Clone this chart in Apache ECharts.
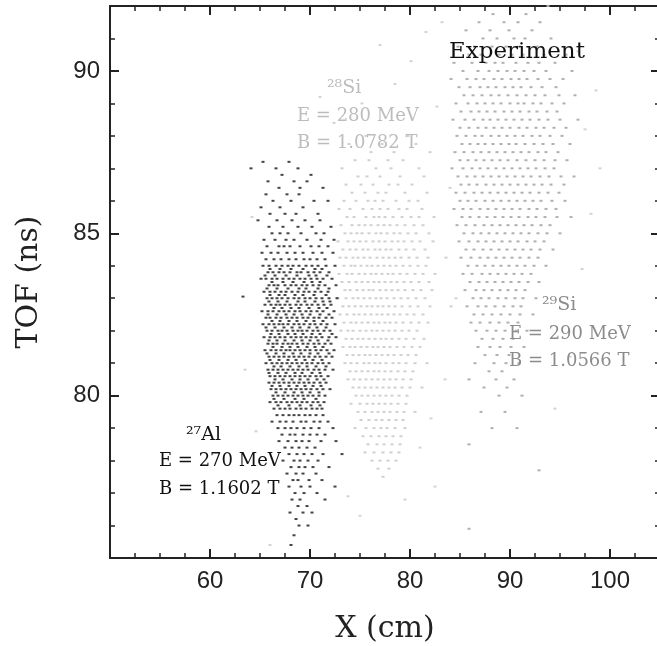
<!DOCTYPE html>
<html>
<head>
<meta charset="utf-8">
<script src="https://cdn.jsdelivr.net/npm/echarts@6/dist/echarts.min.js"></script>
<style>html,body{margin:0;padding:0;background:#fff}#c{width:657px;height:646px}</style>
</head>
<body>
<div id="c"></div>
<script>
// Axis ticks
const xTicks = [60, 70, 80, 90, 100];
const yTicks = [80, 85, 90];

// 27Al cluster rows: [TOF, [X values]]
const alRows = [
  [87.2, [65.3, 67.9]],
  [87.0, [64.1, 66.6, 68.8]],
  [86.8, [67.2, 70.1]],
  [86.6, [65.8, 68.4, 69.7]],
  [86.4, [66.9, 69.0, 71.3]],
  [86.2, [65.6, 67.7, 68.9]],
  [86.0, [66.3, 68.1, 70.4, 71.8]],
  [85.8, [65.1, 67.0, 69.3]],
  [85.6, [66.0, 67.5, 68.6, 70.8]],
  [85.4, [64.8, 66.7, 68.2, 69.5, 71.0]],
  [85.2, [65.9, 67.3, 68.8, 70.2, 72.1]],
  [85.0, [66.2, 67.0, 67.8, 69.1, 70.6, 71.4]],
  [84.8, [65.4, 66.5, 67.6, 68.4, 69.7, 71.1, 72.4]],
  [84.6, [65.7, 66.9, 67.4, 68.0, 69.0, 70.1, 70.9, 71.8]],
  [84.4, [65.2, 66.1, 66.8, 67.7, 68.5, 69.3, 70.3, 71.2, 72.3]],
  [84.2, [65.6, 66.4, 67.1, 67.9, 68.6, 69.4, 70.0, 70.7, 71.5]],
  [84.0, [65.3, 65.9, 66.6, 67.2, 67.8, 68.3, 68.9, 69.6, 70.2, 70.8, 71.6, 72.5]],
  [83.9, [66.0, 67.0, 68.1, 69.3, 70.5, 71.2]],
  [83.8, [65.8, 66.3, 66.9, 67.4, 68.0, 68.7, 69.1, 69.8, 70.4, 71.0, 71.9]],
  [83.7, [65.5, 66.5, 67.6, 68.7, 69.9, 70.6, 71.7]],
  [83.6, [65.1, 65.6, 66.2, 66.7, 67.3, 67.9, 68.4, 69.0, 69.5, 70.1, 70.7, 71.3, 72.2]],
  [83.5, [66.2, 67.3, 68.3, 69.4, 70.2, 71.0]],
  [83.4, [65.9, 66.4, 66.8, 67.5, 68.1, 68.6, 69.2, 69.7, 70.3, 70.9, 71.5, 72.6]],
  [83.3, [65.7, 66.7, 67.8, 68.9, 69.6, 70.8, 71.9]],
  [83.2, [65.4, 66.0, 66.5, 67.1, 67.6, 68.2, 68.8, 69.4, 69.9, 70.5, 71.1, 71.8]],
  [83.1, [66.0, 66.9, 67.5, 68.5, 69.3, 70.4, 71.6]],
  [83.0, [65.7, 66.2, 66.7, 67.2, 67.8, 68.4, 68.9, 69.5, 70.0, 70.6, 71.2, 71.9, 72.7]],
  [82.9, [65.9, 66.8, 67.7, 68.8, 69.5, 70.5, 71.3, 72.0]],
  [82.8, [65.5, 66.1, 66.6, 67.0, 67.5, 68.0, 68.6, 69.1, 69.7, 70.2, 70.8, 71.4, 72.1]],
  [82.7, [66.4, 67.2, 68.1, 68.9, 69.9, 70.9, 71.7]],
  [82.6, [65.2, 65.8, 66.3, 66.9, 67.4, 67.9, 68.5, 69.0, 69.6, 70.1, 70.7, 71.3, 72.4]],
  [82.5, [65.8, 66.7, 67.6, 68.4, 69.2, 70.0, 71.0, 71.9]],
  [82.4, [65.6, 66.0, 66.6, 67.1, 67.7, 68.2, 68.7, 69.3, 69.8, 70.4, 70.9, 71.6, 72.2]],
  [82.3, [66.2, 67.0, 67.9, 68.7, 69.6, 70.4, 71.3]],
  [82.2, [65.3, 65.9, 66.4, 66.9, 67.3, 67.8, 68.4, 68.9, 69.4, 70.0, 70.5, 71.1, 71.7, 72.5]],
  [82.1, [65.6, 66.5, 67.4, 68.2, 69.0, 69.9, 70.7, 71.6]],
  [82.0, [65.7, 66.2, 66.8, 67.2, 67.7, 68.3, 68.8, 69.2, 69.7, 70.3, 70.8, 71.4, 72.0]],
  [81.9, [66.1, 66.9, 67.8, 68.5, 69.3, 70.2, 71.0, 72.2]],
  [81.8, [65.4, 66.0, 66.5, 67.0, 67.5, 68.1, 68.6, 69.1, 69.6, 70.1, 70.6, 71.2, 71.9, 72.6]],
  [81.7, [65.9, 66.7, 67.5, 68.4, 69.2, 70.0, 70.8, 71.8]],
  [81.6, [65.8, 66.3, 66.7, 67.3, 67.8, 68.2, 68.7, 69.3, 69.8, 70.4, 70.9, 71.5, 72.1]],
  [81.5, [66.3, 67.2, 68.0, 68.8, 69.7, 70.5, 71.3]],
  [81.4, [65.5, 66.1, 66.6, 67.1, 67.6, 68.0, 68.5, 69.0, 69.5, 70.0, 70.6, 71.1, 71.7, 72.4]],
  [81.3, [65.7, 66.6, 67.4, 68.3, 69.1, 70.0, 70.8, 71.9]],
  [81.2, [65.9, 66.4, 66.9, 67.4, 67.9, 68.4, 68.9, 69.4, 69.9, 70.5, 71.0, 71.6, 72.2]],
  [81.1, [66.0, 66.9, 67.8, 68.6, 69.5, 70.3, 71.2]],
  [81.0, [65.6, 66.2, 66.7, 67.2, 67.7, 68.2, 68.7, 69.2, 69.7, 70.2, 70.8, 71.3, 71.9]],
  [80.9, [66.4, 67.1, 68.0, 68.9, 69.7, 70.6, 71.6]],
  [80.8, [65.8, 66.3, 66.8, 67.3, 67.8, 68.3, 68.8, 69.3, 69.8, 70.4, 70.9, 71.5, 72.3]],
  [80.7, [65.9, 66.8, 67.6, 68.5, 69.2, 70.2, 71.0]],
  [80.6, [66.0, 66.5, 67.0, 67.5, 68.0, 68.5, 69.0, 69.5, 70.0, 70.6, 71.1, 71.8]],
  [80.5, [66.5, 67.3, 68.2, 69.0, 69.8, 70.7, 71.4]],
  [80.4, [65.9, 66.4, 66.9, 67.4, 67.9, 68.4, 68.9, 69.4, 69.9, 70.4, 71.0, 71.6]],
  [80.3, [66.2, 67.0, 67.9, 68.7, 69.5, 70.3, 71.1]],
  [80.2, [66.1, 66.6, 67.1, 67.6, 68.1, 68.6, 69.1, 69.6, 70.1, 70.7, 71.3, 72.0]],
  [80.1, [66.6, 67.5, 68.4, 69.2, 70.0, 70.9]],
  [80.0, [66.3, 66.8, 67.3, 67.8, 68.3, 68.8, 69.3, 69.8, 70.3, 70.9, 71.5]],
  [79.9, [66.4, 67.4, 68.5, 69.4, 70.6]],
  [79.8, [66.0, 66.6, 67.1, 67.7, 68.2, 68.7, 69.2, 69.7, 70.3, 70.8, 71.4]],
  [79.7, [66.8, 67.9, 69.0, 70.1, 71.0]],
  [79.6, [66.4, 67.0, 67.5, 68.0, 68.6, 69.1, 69.6, 70.2, 70.7, 71.2]],
  [79.4, [66.7, 67.3, 67.9, 68.4, 68.9, 69.5, 70.0, 70.6, 71.3]],
  [79.2, [66.2, 67.0, 67.6, 68.3, 69.1, 69.6, 70.4, 71.0, 71.8]],
  [79.0, [66.8, 67.5, 68.1, 68.7, 69.4, 70.1, 70.9, 72.3]],
  [78.8, [67.2, 68.0, 68.5, 69.3, 70.0, 70.7, 71.5]],
  [78.6, [66.9, 67.8, 68.6, 69.2, 69.9, 71.1, 72.6]],
  [78.4, [67.5, 68.2, 68.9, 69.7, 70.5]],
  [78.2, [67.9, 68.7, 69.4, 70.2, 71.3, 73.2]],
  [78.0, [67.3, 68.4, 69.0, 69.8, 70.8]],
  [77.8, [68.1, 68.9, 69.5, 70.3, 71.9]],
  [77.6, [67.7, 68.6, 69.3, 70.6]],
  [77.4, [68.3, 68.8, 69.9, 71.2]],
  [77.2, [67.9, 69.1, 70.0, 72.5]],
  [77.0, [68.5, 69.4, 70.7]],
  [76.8, [68.2, 69.0, 71.5]],
  [76.6, [68.8, 69.7]],
  [76.4, [68.0, 69.3, 70.2]],
  [76.2, [68.6]],
  [76.0, [68.9, 69.8]],
  [75.7, [68.4]],
  [75.4, [68.1]],
  [83.05, [63.3]]
];

// 28Si cluster rows
const si28Rows = [
  [88.00, [75.6, 79.8]],
  [87.75, [73.9, 77.2, 80.6]],
  [87.50, [76.1, 78.4, 82.0]],
  [87.25, [74.5, 75.9, 77.8, 79.3]],
  [87.00, [73.2, 76.6, 78.1, 80.9]],
  [86.75, [74.8, 75.7, 77.0, 79.0, 81.4]],
  [86.50, [73.6, 75.1, 76.3, 77.9, 78.8, 80.2]],
  [86.25, [74.2, 75.5, 76.8, 77.6, 79.5, 81.7]],
  [86.00, [73.4, 74.6, 75.8, 76.5, 77.3, 78.6, 79.9, 80.8]],
  [85.75, [72.9, 74.0, 75.3, 76.2, 77.0, 77.8, 78.9, 79.7, 81.2]],
  [85.50, [73.7, 74.4, 75.6, 76.4, 76.9, 77.5, 78.3, 79.2, 80.1, 80.9, 82.4]],
  [85.25, [73.1, 74.2, 74.9, 75.5, 76.1, 76.8, 77.4, 78.0, 78.7, 79.5, 80.4, 81.3]],
  [85.00, [73.5, 74.1, 74.7, 75.2, 75.9, 76.6, 77.1, 77.7, 78.4, 79.0, 79.8, 80.6, 81.9]],
  [84.75, [72.8, 73.8, 74.4, 75.0, 75.6, 76.3, 76.9, 77.5, 78.2, 78.8, 79.4, 80.2, 81.0, 82.3]],
  [84.50, [73.3, 74.0, 74.6, 75.3, 75.8, 76.5, 77.0, 77.6, 78.1, 78.9, 79.6, 80.4, 81.5]],
  [84.25, [73.0, 73.6, 74.3, 74.8, 75.4, 76.0, 76.7, 77.3, 77.9, 78.5, 79.1, 79.9, 80.7, 81.8, 83.6]],
  [84.00, [73.4, 74.1, 74.5, 75.1, 75.7, 76.2, 76.8, 77.4, 78.0, 78.6, 79.3, 80.0, 80.8, 81.6]],
  [83.75, [72.9, 73.7, 74.2, 74.9, 75.5, 76.1, 76.6, 77.2, 77.8, 78.3, 79.0, 79.7, 80.5, 81.3, 82.5]],
  [83.50, [73.2, 73.9, 74.6, 75.2, 75.8, 76.4, 76.9, 77.5, 78.1, 78.7, 79.4, 80.1, 80.9, 81.9]],
  [83.25, [73.5, 74.0, 74.7, 75.3, 75.9, 76.3, 77.0, 77.6, 78.2, 78.8, 79.5, 80.3, 81.1, 82.2]],
  [83.00, [72.8, 73.6, 74.3, 74.8, 75.4, 76.0, 76.6, 77.1, 77.7, 78.4, 79.1, 79.8, 80.6, 81.5]],
  [82.75, [73.3, 73.9, 74.5, 75.1, 75.7, 76.2, 76.8, 77.3, 77.9, 78.5, 79.2, 80.0, 80.8, 82.0, 84.1]],
  [82.50, [73.0, 73.7, 74.4, 74.9, 75.5, 76.1, 76.7, 77.2, 77.8, 78.4, 79.0, 79.7, 80.4, 81.3]],
  [82.25, [73.4, 74.1, 74.6, 75.2, 75.8, 76.4, 76.9, 77.5, 78.0, 78.6, 79.3, 80.1, 80.9, 81.8]],
  [82.00, [73.1, 73.8, 74.3, 75.0, 75.6, 76.2, 76.7, 77.3, 77.9, 78.5, 79.2, 79.9, 80.7]],
  [81.75, [73.6, 74.2, 74.8, 75.3, 75.9, 76.5, 77.1, 77.6, 78.2, 78.9, 79.6, 80.4, 81.4]],
  [81.50, [73.3, 74.0, 74.5, 75.1, 75.7, 76.3, 76.8, 77.4, 78.0, 78.7, 79.4, 80.2, 81.0]],
  [81.25, [73.7, 74.3, 74.9, 75.5, 76.0, 76.6, 77.2, 77.8, 78.4, 79.1, 79.8, 80.6]],
  [81.00, [73.5, 74.1, 74.7, 75.4, 75.9, 76.5, 77.0, 77.6, 78.3, 78.9, 79.6, 80.5, 81.7]],
  [80.75, [74.0, 74.6, 75.2, 75.8, 76.4, 76.9, 77.5, 78.1, 78.8, 79.5, 80.3]],
  [80.50, [73.8, 74.4, 75.0, 75.6, 76.2, 76.8, 77.4, 78.0, 78.6, 79.3, 80.1]],
  [80.25, [74.3, 74.9, 75.5, 76.1, 76.7, 77.3, 77.9, 78.5, 79.2, 80.0, 81.2]],
  [80.00, [74.6, 75.2, 75.8, 76.4, 77.0, 77.6, 78.2, 78.9, 79.7]],
  [79.75, [74.1, 75.0, 75.7, 76.3, 76.9, 77.5, 78.1, 78.8, 79.6]],
  [79.50, [74.8, 75.5, 76.2, 76.8, 77.4, 78.0, 78.7, 79.4, 80.5]],
  [79.25, [75.1, 75.9, 76.6, 77.2, 77.9, 78.6, 79.3]],
  [79.00, [74.5, 75.6, 76.4, 77.1, 77.7, 78.5, 79.5]],
  [78.75, [75.3, 76.1, 76.9, 77.6, 78.3, 79.1]],
  [78.50, [75.8, 76.7, 77.4, 78.2, 79.0]],
  [78.25, [75.5, 76.4, 77.3, 78.1, 78.9]],
  [78.00, [76.2, 77.0, 77.8, 78.6]],
  [77.75, [76.8, 77.9]],
  [77.50, [77.3]]
];

// 29Si cluster rows
const si29Rows = [
  [91.75, [88.3, 91.6]],
  [91.50, [86.9, 89.4, 90.8, 93.0]],
  [91.25, [85.6, 88.0, 89.9, 92.2]],
  [91.00, [87.3, 88.7, 90.4, 91.5, 94.1]],
  [90.75, [84.8, 86.5, 88.2, 89.6, 90.9, 92.7]],
  [90.50, [85.9, 87.1, 88.9, 90.2, 91.3, 93.4, 95.6]],
  [90.25, [84.4, 86.2, 87.6, 88.5, 89.3, 90.6, 91.8, 92.9, 94.5]],
  [90.00, [85.3, 86.8, 87.9, 88.8, 89.7, 90.5, 91.4, 92.4, 93.6, 96.2]],
  [89.75, [84.1, 85.7, 86.6, 87.4, 88.4, 89.2, 90.1, 90.9, 91.7, 92.8, 94.0, 95.3]],
  [89.50, [84.9, 86.0, 87.0, 87.8, 88.6, 89.5, 90.3, 91.1, 92.1, 93.2, 94.6]],
  [89.25, [85.4, 86.3, 87.2, 88.1, 88.9, 89.8, 90.7, 91.6, 92.5, 93.5, 94.9, 96.5]],
  [89.00, [84.6, 85.8, 86.7, 87.5, 88.3, 89.1, 90.0, 90.8, 91.4, 92.3, 93.1, 94.2, 95.4]],
  [88.75, [85.1, 86.1, 86.9, 87.7, 88.5, 89.4, 90.2, 91.0, 91.9, 92.7, 93.7, 94.7]],
  [88.50, [84.3, 85.5, 86.4, 87.3, 88.0, 88.8, 89.6, 90.4, 91.2, 92.0, 92.9, 93.8, 95.0, 96.8]],
  [88.25, [85.0, 85.9, 86.8, 87.6, 88.4, 89.2, 90.0, 90.9, 91.7, 92.6, 93.4, 94.4, 95.6]],
  [88.00, [84.7, 85.6, 86.5, 87.2, 88.1, 88.9, 89.7, 90.5, 91.3, 92.2, 93.0, 94.0, 95.2]],
  [87.75, [85.2, 86.0, 86.8, 87.5, 88.3, 89.1, 89.9, 90.6, 91.5, 92.4, 93.3, 94.3, 96.0]],
  [87.50, [84.5, 85.4, 86.3, 87.1, 87.9, 88.7, 89.5, 90.3, 91.1, 91.9, 92.8, 93.6, 94.8]],
  [87.25, [85.0, 85.8, 86.6, 87.4, 88.2, 89.0, 89.8, 90.7, 91.6, 92.5, 93.4, 94.5, 95.7]],
  [87.00, [84.2, 85.3, 86.2, 87.0, 87.8, 88.6, 89.4, 90.2, 91.0, 91.8, 92.6, 93.5, 94.4]],
  [86.75, [84.8, 85.7, 86.5, 87.3, 88.1, 88.9, 89.7, 90.5, 91.3, 92.1, 93.0, 93.9, 95.1, 96.4]],
  [86.50, [85.1, 85.9, 86.7, 87.6, 88.4, 89.2, 90.0, 90.8, 91.6, 92.4, 93.2, 94.1, 95.4]],
  [86.25, [84.6, 85.5, 86.4, 87.2, 88.0, 88.8, 89.6, 90.4, 91.2, 92.0, 92.9, 93.8, 94.9]],
  [86.00, [85.0, 85.8, 86.6, 87.5, 88.3, 89.1, 89.9, 90.7, 91.5, 92.3, 93.1, 94.2, 95.5]],
  [85.75, [84.4, 85.3, 86.1, 87.0, 87.8, 88.6, 89.4, 90.2, 91.0, 91.9, 92.7, 93.6, 94.6]],
  [85.50, [85.2, 86.0, 86.9, 87.7, 88.5, 89.3, 90.1, 90.9, 91.8, 92.6, 93.5, 94.7, 96.1]],
  [85.25, [84.7, 85.6, 86.5, 87.4, 88.2, 89.0, 89.8, 90.6, 91.4, 92.2, 93.1, 94.0]],
  [85.00, [85.4, 86.3, 87.1, 87.9, 88.7, 89.5, 90.3, 91.1, 91.9, 92.8, 93.7, 95.0]],
  [84.75, [84.9, 85.9, 86.8, 87.6, 88.4, 89.2, 90.0, 90.8, 91.7, 92.5, 93.4]],
  [84.50, [85.6, 86.4, 87.3, 88.1, 88.9, 89.7, 90.5, 91.3, 92.1, 93.0, 94.3]],
  [84.25, [85.1, 86.1, 87.0, 87.8, 88.6, 89.4, 90.2, 91.0, 91.9, 92.8]],
  [84.00, [85.8, 86.7, 87.5, 88.3, 89.1, 89.9, 90.7, 91.5, 92.4, 93.6]],
  [83.75, [85.3, 86.2, 87.2, 88.0, 88.8, 89.6, 90.4, 91.2, 92.1]],
  [83.50, [86.0, 86.9, 87.7, 88.5, 89.3, 90.1, 90.9, 91.8, 92.9]],
  [83.25, [85.5, 86.6, 87.4, 88.2, 89.0, 89.8, 90.6, 91.5]],
  [83.00, [86.3, 87.1, 87.9, 88.8, 89.6, 90.5, 91.3, 92.6]],
  [82.75, [85.7, 86.8, 87.6, 88.5, 89.4, 90.3, 91.1]],
  [82.50, [86.4, 87.3, 88.2, 89.1, 90.0, 91.0, 92.3]],
  [82.25, [86.1, 87.0, 88.0, 88.9, 89.8, 90.8]],
  [82.00, [86.6, 87.7, 88.6, 89.5, 90.6, 91.7]],
  [81.75, [87.2, 88.3, 89.3, 90.3]],
  [81.50, [86.8, 88.0, 89.0, 90.1, 91.4]],
  [81.25, [87.5, 88.7, 89.9]],
  [81.00, [86.5, 88.4, 89.6, 90.9]],
  [80.75, [87.9, 89.2]],
  [80.50, [85.9, 88.6, 90.4]],
  [80.25, [87.4, 89.7]],
  [80.00, [88.9, 91.2]],
  [79.50, [87.1, 89.5]],
  [79.00, [88.2, 90.7]],
  [78.50, [85.9]],
  [77.70, [92.9]],
  [75.90, [85.9]]
];

// Scattered background events [X, TOF]
const strayPts = [
  [83.2, 91.5], [80.1, 90.3], [78.5, 89.6], [82.7, 88.9], [84.0, 86.4], [83.5, 80.5],
  [82.1, 79.3], [81.0, 78.4], [84.6, 83.0], [97.5, 88.2], [98.1, 85.6], [97.2, 83.9],
  [96.8, 90.6], [93.8, 92.0], [86.5, 92.1], [75.2, 89.0], [72.4, 88.4], [71.0, 89.2],
  [64.2, 85.5], [63.5, 80.8], [64.6, 78.9], [73.8, 76.9], [75.0, 76.3], [94.5, 79.6],
  [96.0, 81.2], [79.5, 76.8], [82.5, 77.2], [66.0, 75.4], [81.6, 91.2], [77.0, 90.8],
  [99.0, 87.0], [98.6, 89.4]
];

const toPts = rows => rows.flatMap(([y, xs]) => xs.map(x => [x, y]));

const axisColor = '#222';
function xAx(pos, interval, major, labels) {
  return {
    type: 'value', min: 50, max: 105, interval: interval, position: pos,
    axisLine: { show: major, lineStyle: { color: axisColor, width: 2 } },
    axisTick: { show: true, inside: true, length: major ? 9 : 5, lineStyle: { color: axisColor, width: major ? 2 : 1.5 } },
    splitLine: { show: false },
    axisLabel: labels ? { show: true, fontFamily: 'Liberation Sans', fontSize: 24, color: axisColor, margin: 11, showMinLabel: false, showMaxLabel: false } : { show: false },
    name: labels ? 'X (cm)' : '', nameLocation: 'middle', nameGap: 56,
    nameTextStyle: { fontFamily: 'DejaVu Serif', fontSize: 30, color: axisColor }
  };
}
function yAx(pos, interval, major, labels, line) {
  return {
    type: 'value', min: 75, max: 92, interval: interval, position: pos,
    axisLine: { show: line, lineStyle: { color: axisColor, width: 2 } },
    axisTick: { show: true, inside: true, length: major ? 9 : 5, lineStyle: { color: axisColor, width: major ? 2 : 1.5 } },
    splitLine: { show: false },
    axisLabel: labels ? { show: true, fontFamily: 'Liberation Sans', fontSize: 24, color: axisColor, margin: 10, showMinLabel: false, showMaxLabel: false } : { show: false },
    name: labels ? 'TOF (ns)' : '', nameLocation: 'middle', nameGap: 66,
    nameTextStyle: { fontFamily: 'DejaVu Serif', fontSize: 30, color: axisColor }
  };
}

function scat(name, data, color, z) {
  return {
    name: name, type: 'scatter', data: data, xAxisIndex: 0, yAxisIndex: 0,
    symbol: 'rect', symbolSize: [3, 2], itemStyle: { color: color }, z: z,
    silent: true, animation: false, large: false
  };
}

const serif = 'DejaVu Serif';
function txt(x, y, s, size, color) {
  return { type: 'text', x: x, y: y, silent: true, z: 100,
    style: { text: s, font: size + 'px "' + serif + '"', fill: color, textVerticalAlign: 'middle', textAlign: 'left' } };
}

const chart = echarts.init(document.getElementById('c'), null, { renderer: 'canvas' });
chart.setOption({
  backgroundColor: '#fff',
  animation: false,
  grid: { left: 110, right: -3, top: 6, bottom: 88, containLabel: false, outerBoundsMode: 'none' },
  xAxis: [xAx('bottom', 10, true, true), xAx('bottom', 2.5, false, false), xAx('top', 10, true, false), xAx('top', 2.5, false, false)],
  yAxis: [yAx('left', 5, true, true, true), yAx('left', 1, false, false, false), yAx('right', 5, true, false, false), yAx('right', 1, false, false, false)],
  series: [
    scat('stray', strayPts, '#c8c8c8', 2),
    scat('28Si', toPts(si28Rows), '#c4c4c4', 3),
    scat('29Si', toPts(si29Rows), '#9c9c9c', 4),
    scat('27Al', toPts(alRows), '#151515', 5)
  ],
  graphic: [
    txt(449, 52, 'Experiment', 23, '#111'),
    txt(327, 88, '²⁸Si', 19, '#bdbdbd'),
    txt(297, 116, 'E = 280 MeV', 18, '#bdbdbd'),
    txt(297, 143, 'B = 1.0782 T', 18, '#bdbdbd'),
    txt(542, 305, '²⁹Si', 19, '#8c8c8c'),
    txt(509, 334, 'E = 290 MeV', 18, '#8c8c8c'),
    txt(509, 361, 'B = 1.0566 T', 18, '#8c8c8c'),
    txt(186, 435, '²⁷Al', 19, '#111'),
    txt(159, 461, 'E = 270 MeV', 18, '#111'),
    txt(159, 489, 'B = 1.1602 T', 18, '#111')
  ]
});
</script>
</body>
</html>
